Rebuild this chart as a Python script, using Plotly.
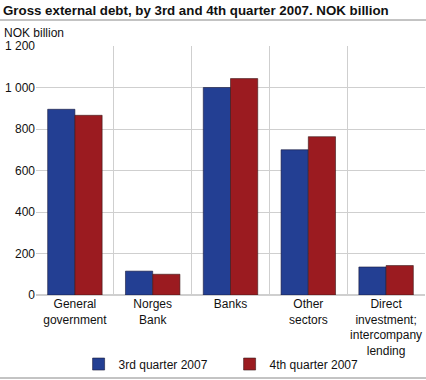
import plotly.graph_objects as go

categories = ["General<br>government", "Norges<br>Bank", "Banks", "Other<br>sectors",
              "Direct<br>investment;<br>intercompany<br>lending"]
q3_2007 = [895, 115, 1000, 700, 135]
q4_2007 = [866, 100, 1043, 763, 142]
series_names = ["3rd quarter 2007", "4th quarter 2007"]
y_ticks = [0, 200, 400, 600, 800, 1000, 1200]
y_tick_labels = ["0", "200", "400", "600", "800", "1 000", "1 200"]

fig = go.Figure()
fig.add_trace(go.Bar(x=categories, y=q3_2007, name=series_names[0],
                     marker=dict(color="#233f93", line=dict(color="#1a1a3a", width=0.6))))
fig.add_trace(go.Bar(x=categories, y=q4_2007, name=series_names[1],
                     marker=dict(color="#9b1b20", line=dict(color="#3a1a1a", width=0.6))))

fig.update_layout(
    width=426, height=380,
    margin=dict(l=36, r=1, t=46, b=85),
    paper_bgcolor="white", plot_bgcolor="white",
    font=dict(family="Liberation Sans, Arial, sans-serif", size=12, color="#111"),
    barmode="group", bargap=0.3, bargroupgap=0,
    showlegend=True,
    legend=dict(orientation="h", xref="container", yref="container",
                x=0.1845, xanchor="left", y=0.042, yanchor="middle",
                font=dict(size=12), traceorder="normal", entrywidth=106,
                bgcolor="rgba(0,0,0,0)"),
    annotations=[
        dict(text="<b>Gross external debt, by 3rd and 4th quarter 2007. NOK billion</b>",
             xref="paper", yref="paper", x=-0.09, y=1.0, yshift=36, xanchor="left",
             yanchor="middle", showarrow=False, font=dict(size=13.3, color="#111")),
        dict(text="NOK billion", xref="paper", yref="paper", x=-0.088, y=1.0, yshift=13,
             xanchor="left", yanchor="middle", showarrow=False, font=dict(size=12)),
    ],
    shapes=[
        dict(type="line", xref="paper", yref="paper", x0=-0.1, x1=1.01,
             ysizemode="pixel", yanchor=1, y0=26, y1=26, line=dict(color="#888", width=1)),
        dict(type="line", xref="paper", yref="paper", x0=-0.1, x1=1.01,
             ysizemode="pixel", yanchor=0, y0=-83, y1=-83, line=dict(color="#888", width=1)),
    ],
)
fig.update_xaxes(tickson="boundaries", showgrid=True, gridcolor="#cfcfcf", gridwidth=1,
                 ticks="", showline=False, tickfont=dict(size=12), automargin=False,
                 tickangle=0)
fig.update_yaxes(range=[0, 1200], tickvals=y_ticks, ticktext=y_tick_labels,
                 showgrid=True, gridcolor="#cfcfcf", gridwidth=1, zeroline=True,
                 zerolinecolor="#cfcfcf", ticks="", tickfont=dict(size=12), automargin=False)

fig.write_html("out.html", config={"displayModeBar": False},
               post_script="document.body.style.margin='0';document.body.style.padding='0';")
